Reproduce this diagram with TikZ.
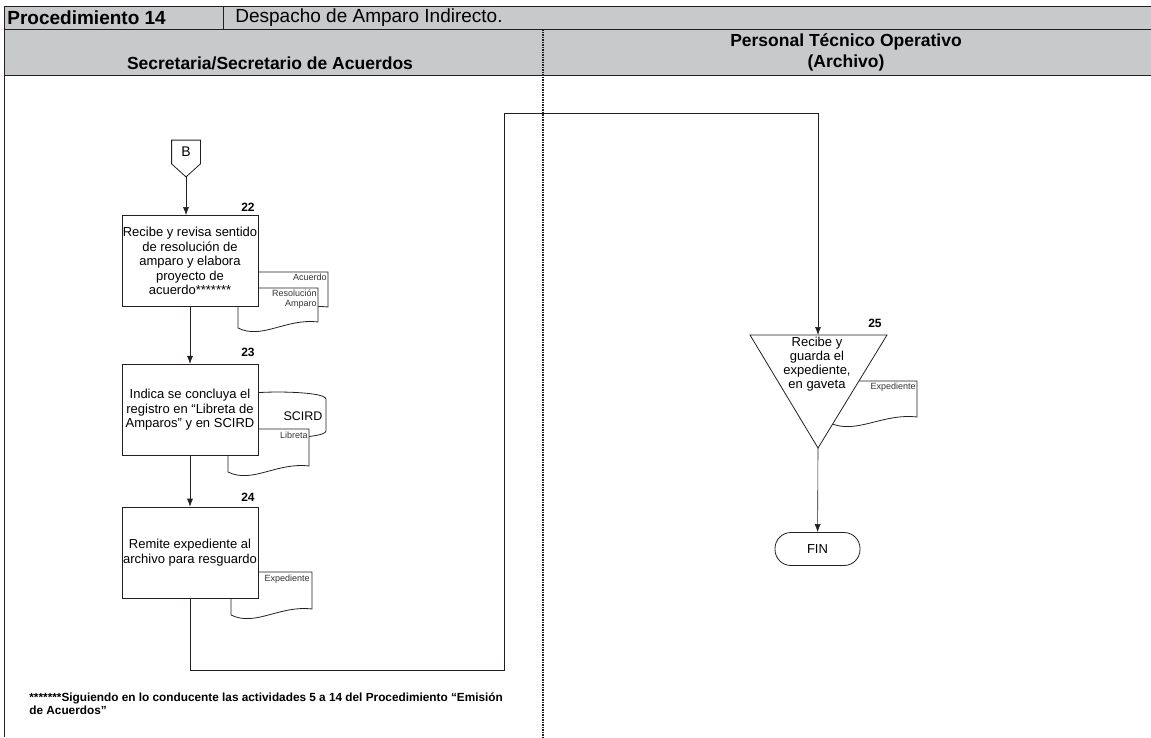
\documentclass[tikz,border=0pt]{standalone}
\usepackage{fontspec}
\setmainfont{Liberation Sans}
\usepackage{tikz}
\usetikzlibrary{positioning}
\usetikzlibrary{arrows.meta}

\definecolor{hdrgray}{RGB}{200,201,203}
\definecolor{lngray}{RGB}{35,31,32}

\begin{document}
\begin{tikzpicture}[
                x=1pt, y=-1pt,
                line width=0.8pt,
                >={Latex[length=8pt,width=6pt]},
                every node/.style={
                        font=\fontsize{13}{14.5}\selectfont,
                        align=center,
                        inner sep=0pt
                    },
                box/.style={
                        draw=lngray,
                        fill=white,
                        minimum width=136pt,
                        minimum height=91pt
                    },
                hdr/.style={font=\fontsize{17.5}{21}\selectfont\bfseries},
                numlbl/.style={font=\fontsize{12}{14}\selectfont\bfseries, anchor=south east},
                doclbl/.style={font=\fontsize{9}{10}\selectfont, anchor=north east, align=right, text=black!80},
                docshape/.style={draw=lngray, fill=white},
                flow/.style={draw=lngray, line width=0.6pt}
            ]
            \useasboundingbox (0,0) rectangle (1151,737);

            % Header rows and lanes
            \fill[hdrgray] (4,6) rectangle (1151,75);
            \draw[lngray, line width=1pt] (4,6) -- (1151,6);
            \draw[lngray, line width=1pt] (4,29) -- (1151,29);
            \draw[lngray, line width=1pt] (4,75) -- (1151,75);
            \draw[lngray, line width=1pt] (4,6) -- (4,737);
            \draw[lngray, line width=0.8pt] (223,6) -- (223,29);
            \draw[lngray, line width=1.2pt, dash pattern=on 1.5pt off 1pt] (543,29) -- (543,737);

            \node[font=\fontsize{19}{22}\selectfont\bfseries, anchor=west] (proc) at (7,18) {Procedimiento 14};
            \node[font=\fontsize{19}{22}\selectfont, anchor=west] (title) at (235,18) {Despacho de Amparo Indirecto.};
            \node[hdr] (lane1) at (270,63) {Secretaria/Secretario de Acuerdos};
            \node[hdr] (lane2) at (846,52.5) {Personal Técnico Operativo\\(Archivo)};

            % Off-page connector
            \node[font=\fontsize{14}{16}\selectfont, minimum width=28pt, minimum height=23pt] (B) at (186,152) {B};
            \coordinate (Btip) at ([yshift=-13pt]B.south);
            \draw[lngray] (B.north west) -- (B.north east) -- (B.south east) -- (Btip) -- (B.south west) -- cycle;

            % Documents behind the activities
            \draw[docshape] (240,272) -- (328,272) -- (328,307) .. controls (292.8,303) and (266.4,325) .. (240,313) -- cycle;
            \draw[docshape] (238,288) -- (318,288) -- (318,322) .. controls (286,318) and (262,340) .. (238,328) -- cycle;
            \draw[docshape] (230,399) .. controls (230,389.7) and (326,389.7) .. (326,399) -- (326,431) .. controls (326,440.3) and (230,440.3) .. (230,431) -- cycle;
            \draw[docshape] (228,429) -- (309,429) -- (309,466) .. controls (276.6,462) and (252.3,484) .. (228,472) -- cycle;
            \draw[docshape] (231,572) -- (312,572) -- (312,609) .. controls (279.6,605) and (255.3,627) .. (231,615) -- cycle;
            \draw[docshape] (830,381) -- (917,381) -- (917,417) .. controls (882.2,413) and (856.1,435) .. (830,423) -- cycle;

            % Activities
            \node[box] (act22) at (190,261) {Recibe y revisa sentido\\de resolución de\\amparo y elabora\\proyecto de\\acuerdo*******};
            \node[box, below=57pt of act22] (act23) {Indica se concluya el\\registro en “Libreta de\\Amparos” y en SCIRD};
            \node[box, below=51pt of act23] (act24) {Remite expediente al\\archivo para resguardo};

            \coordinate (act25top) at (818,335);
            \coordinate (act25tip) at (818,448);
            \draw[docshape] (750,335) -- (887,335) -- (act25tip) -- cycle;
            \node[font=\fontsize{13}{13.8}\selectfont] (act25) at (817,364) {Recibe y\\guarda el\\expediente,\\en gaveta};

            \node[draw=lngray, fill=white, rounded corners=16pt, minimum width=85pt, minimum height=33pt] (fin) at (817.5,549) {FIN};

            % Numbers
            \node[numlbl] (n22) at (255,212) {22};
            \node[numlbl] (n23) at (255,357) {23};
            \node[numlbl] (n24) at (255,502) {24};
            \node[numlbl] (n25) at (882,328) {25};

            % Document labels
            \node[doclbl] (dacu) at (327,273.5) {Acuerdo};
            \node[doclbl] (dres) at (317,289.5) {Resolución\\Amparo};
            \node[font=\fontsize{12.5}{14}\selectfont] (dscird) at (303,416) {SCIRD};
            \node[doclbl] (dlib) at (308,432) {Libreta};
            \node[doclbl] (dexp24) at (310,575) {Expediente};
            \node[doclbl] (dexp25) at (916,383) {Expediente};

            % Connectors
            \draw[flow, ->] (Btip) -- (Btip |- act22.north);
            \draw[flow, ->] (act22) -- (act23);
            \draw[flow, ->] (act23) -- (act24);
            \draw[flow, ->] (act24.south) -- ++(0,72) -| (504,113) -| (act25top);
            \draw[flow, ->] (act25tip) -- (fin);

            % Footnote
            \node[font=\fontsize{11.8}{13}\selectfont\bfseries, align=left, anchor=north west] (note) at (29,692) {*******Siguiendo en lo conducente las actividades 5 a 14 del Procedimiento “Emisión\\de Acuerdos”};

        \end{tikzpicture}
\end{document}
